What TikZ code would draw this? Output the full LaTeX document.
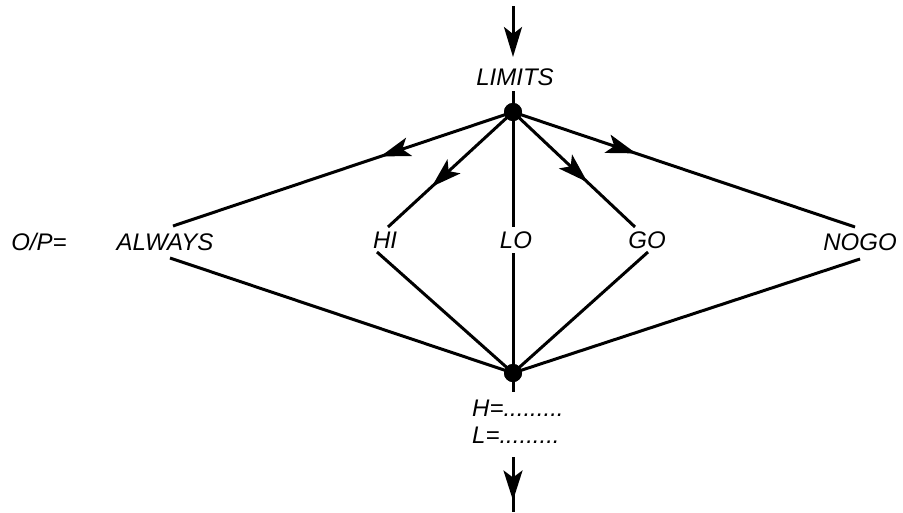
\documentclass[tikz,border=0pt]{standalone}
\usepackage{fontspec}
\setmainfont{Liberation Sans}
\usetikzlibrary{arrows.meta,decorations.markings}
\begin{document}
\begin{tikzpicture}[x=1pt,y=-1pt,
  wire/.style={line width=3pt},
  lbl/.style={font=\fontsize{24}{28}\selectfont\itshape, inner sep=0pt},
  dotnode/.style={circle, fill, inner sep=0pt, minimum size=18pt},
  midarrow/.style={postaction={decorate}, decoration={markings,
     mark=at position #1 with {\arrow{Stealth[length=30pt,width=19pt,inset=7pt]}}}}]
\useasboundingbox (0,0) rectangle (903,512);
% labels
\node[lbl] (lim) at (515,77) {LIMITS};
\node[lbl] (op) at (39,242) {O/P=};
\node[lbl] (alw) at (165,242) {ALWAYS};
\node[lbl] (hi) at (385,240) {HI};
\node[lbl] (lo) at (516,240) {LO};
\node[lbl] (go) at (647,240) {GO};
\node[lbl] (nogo) at (860,242) {NOGO};
\node[lbl, anchor=west] (hv) at (472,408) {H=.........};
\node[lbl, anchor=west] (lv) at (472,435) {L=.........};
% dots
\node[dotnode] (top) at (513,112) {};
\node[dotnode] (bot) at (513,373) {};
% free ends
\coordinate (in0) at (513,6);
\coordinate (in1) at (513,57);
\coordinate (lim1) at (513,91);
\coordinate (aU) at (173,226);
\coordinate (aL) at (170,258);
\coordinate (hU) at (388,227);
\coordinate (hL) at (377,252);
\coordinate (lU) at (513,227);
\coordinate (lL) at (513,253);
\coordinate (gU) at (635,227);
\coordinate (gL) at (648,252);
\coordinate (nU) at (855,227);
\coordinate (nL) at (860,259);
\coordinate (b1) at (513,392);
\coordinate (out0) at (513,457);
\coordinate (out1) at (513,512);
% connectors
\draw[wire,-{Stealth[length=30pt,width=18pt,inset=7pt]}] (in0) -- (in1);
\draw[wire] (lim1) -- (top.center);
\draw[wire,midarrow=0.39] (top.center) -- (aU);
\draw[wire,midarrow=0.65] (top.center) -- (hU);
\draw[wire] (top.center) -- (lU);
\draw[wire,midarrow=0.61] (top.center) -- (gU);
\draw[wire,midarrow=0.36] (top.center) -- (nU);
\draw[wire] (aL) -- (bot.center);
\draw[wire] (hL) -- (bot.center);
\draw[wire] (lL) -- (bot.center);
\draw[wire] (gL) -- (bot.center);
\draw[wire] (nL) -- (bot.center);
\draw[wire] (bot.center) -- (b1);
\draw[wire,midarrow=0.79] (out0) -- (out1);
\node[dotnode] at (top) {};
\node[dotnode] at (bot) {};
\end{tikzpicture}
\end{document}
